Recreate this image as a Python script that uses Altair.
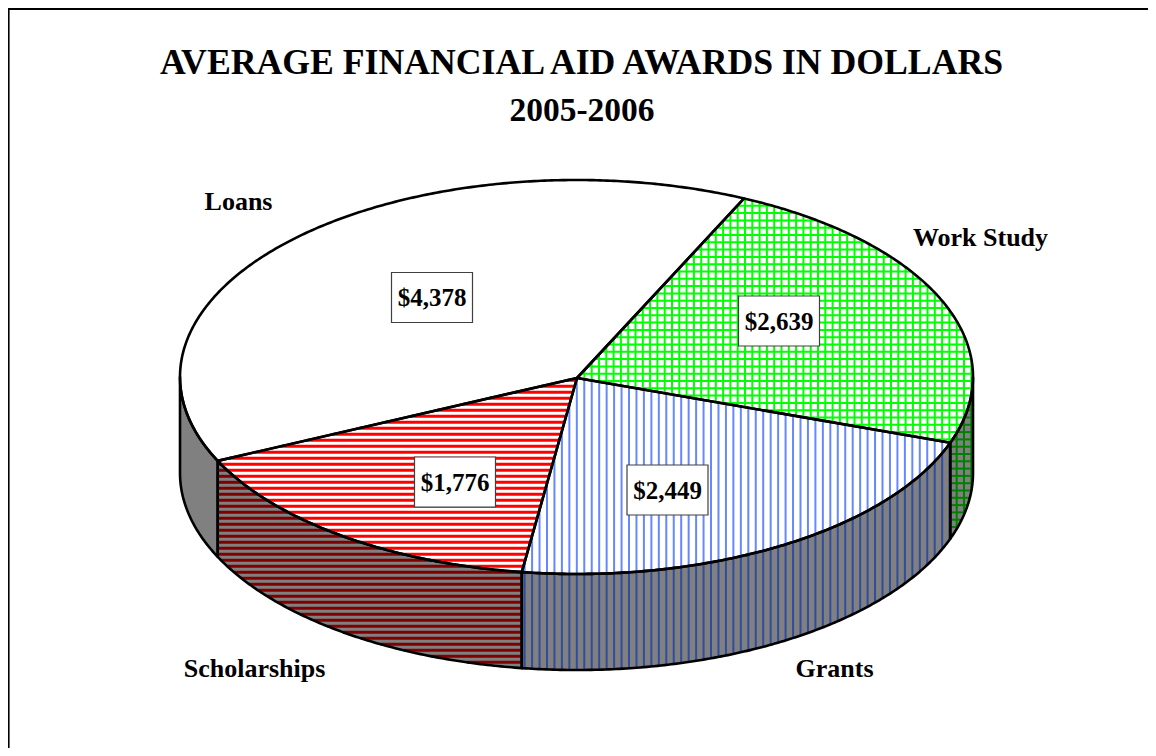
import numpy as np
import pandas as pd
import altair as alt

categories = ["Loans", "Work Study", "Grants", "Scholarships"]
values = [4378, 2639, 2449, 1776]
value_labels = ["$4,378", "$2,639", "$2,449", "$1,776"]
title_lines = ["AVERAGE FINANCIAL AID AWARDS IN DOLLARS", "2005-2006"]

# picture space (pixels of the page; the chart starts at the 8px page margin)
M = 8
W, H = 1140, 740
CX, CY, RX, RY, DEPTH = 576.5, 377.0, 396.5, 197.0, 96.0
APEX = (577.0, 378.0)
START = 25.0  # degrees clockwise from top where Loans ends
FONT = "Liberation Serif"

total = sum(values)
sweeps = [v / total * 360 for v in values]
order = [1, 2, 3, 0]
angles = {}
a = START
for i in order:
    angles[categories[i]] = (a, a + sweeps[i])
    a += sweeps[i]


def pt(deg):
    t = np.radians(deg)
    return CX + RX * np.sin(t), CY - RY * np.cos(t)


def arc(a0, a1):
    n = max(int(abs(a1 - a0) * 2), 2)
    return [pt(d) for d in np.linspace(a0, a1, n)]


def top_poly(name):
    a0, a1 = angles[name]
    return [APEX] + arc(a0, a1) + [APEX]


def side_poly(name):
    a0, a1 = angles[name]
    lo, hi = max(a0, 90), min(a1, 270)
    if hi <= lo:
        return None
    p = arc(lo, hi)
    return p + [(x, y + DEPTH) for x, y in reversed(p)] + [p[0]]


def scan(poly, coord, value):
    hits = []
    other = 1 - coord
    for p, q in zip(poly[:-1], poly[1:]):
        if (p[coord] - value) * (q[coord] - value) < 0:
            s = (value - p[coord]) / (q[coord] - p[coord])
            hits.append(p[other] + s * (q[other] - p[other]))
    hits.sort()
    return list(zip(hits[0::2], hits[1::2]))


def hatch(poly, horizontal, period, phase, color, width):
    rows = []
    coord = 1 if horizontal else 0
    vals = [p[coord] for p in poly]
    k = np.ceil((min(vals) - phase) / period)
    v = phase + k * period
    while v < max(vals):
        for s0, s1 in scan(poly, coord, v):
            if horizontal:
                rows.append(dict(x=s0, x2=s1, y=v, y2=v, color=color, w=width))
            else:
                rows.append(dict(x=v, x2=v, y=s0, y2=s1, color=color, w=width))
        v += period
    return rows


x_s = alt.Scale(domain=[M, M + W], range=[0, W])
y_s = alt.Scale(domain=[M, M + H], range=[0, H])
X = alt.X("x:Q", scale=x_s, axis=None)
Y = alt.Y("y:Q", scale=y_s, axis=None)

layers = []

sides = {n: side_poly(n) for n in categories}

wall = pd.DataFrame([dict(x=x, y=y, y2=y + DEPTH) for x, y in arc(90, 270)])
layers.append(
    alt.Chart(wall).mark_area(color="#808080", opacity=1).encode(x=X, y=Y, y2="y2:Q")
)

GP, GX, GY = 7.3, 0.4, 1.4
BP, BX = 7.456, 2.7
RP, RY0 = 6.0, 2.3
hatch_rows = []
hatch_rows += hatch(top_poly("Work Study"), True, GP, GY, "#00ff00", 2.0)
hatch_rows += hatch(top_poly("Work Study"), False, GP, GX, "#00ff00", 2.0)
hatch_rows += hatch(top_poly("Grants"), False, BP, BX, "#6688ff", 2.0)
hatch_rows += hatch(top_poly("Scholarships"), True, RP, RY0, "#ff0000", 3.0)
hatch_rows += hatch(sides["Work Study"], True, GP, GY, "#008000", 2.0)
hatch_rows += hatch(sides["Work Study"], False, GP, GX, "#008000", 2.0)
hatch_rows += hatch(sides["Grants"], False, BP, BX, "#2f4c9f", 2.0)
hatch_rows += hatch(sides["Scholarships"], True, RP, RY0, "#800000", 3.0)
layers.append(
    alt.Chart(pd.DataFrame(hatch_rows))
    .mark_rule()
    .encode(
        x=X, y=Y, x2="x2:Q", y2="y2:Q",
        color=alt.Color("color:N", scale=None),
        strokeWidth=alt.StrokeWidth("w:Q", scale=None),
    )
)

rows = []
for n in categories:
    for suffix, poly in (("-top", top_poly(n)), ("-side", sides[n])):
        if poly:
            for k, (x, y) in enumerate(poly):
                rows.append(dict(x=x, y=y, path=n + suffix, k=k))
layers.append(
    alt.Chart(pd.DataFrame(rows))
    .mark_line(color="black", strokeWidth=2.6, strokeJoin="round")
    .encode(x=X, y=Y, detail="path:N", order="k:Q")
)

# page frame: top and left edges only
frame_x = [M + 0.8, M + 0.8]
frame_y = [M, M + H]
layers.append(
    alt.Chart(pd.DataFrame(dict(x=frame_x, y=frame_y)))
    .mark_line(color="black", strokeWidth=1.6)
    .encode(x=X, y=Y)
)
layers.append(
    alt.Chart(pd.DataFrame(dict(x=[M, M + W], y=[M + 1, M + 1])))
    .mark_line(color="black", strokeWidth=2)
    .encode(x=X, y=Y)
)

# value boxes
bx = [432, 779, 667.5, 455]
by = [297.5, 321, 490, 482]
boxes = pd.DataFrame(dict(x=[v - 40.5 for v in bx], x2=[v + 40.5 for v in bx],
                          y=[v - 25 for v in by], y2=[v + 25 for v in by]))
layers.append(
    alt.Chart(boxes)
    .mark_rect(fill="white", stroke="#404040", strokeWidth=1.2)
    .encode(x=X, x2="x2:Q", y=Y, y2="y2:Q")
)
vals = pd.DataFrame(dict(x=bx, y=[v + 0.5 for v in by], t=value_labels))
layers.append(
    alt.Chart(vals)
    .mark_text(font=FONT, fontWeight="bold", fontSize=25, color="black")
    .encode(x=X, y=Y, text="t:N")
)

cats = pd.DataFrame(dict(
    x=[238.5, 980.5, 834.5, 254.5],
    y=[202, 238, 669, 669],
    t=categories,
))
layers.append(
    alt.Chart(cats)
    .mark_text(font=FONT, fontWeight="bold", fontSize=26, color="black")
    .encode(x=X, y=Y, text="t:N")
)

titles = pd.DataFrame(dict(x=[581.5, 582], y=[63, 111], t=title_lines, s=[35.7, 33.5]))
layers.append(
    alt.Chart(titles)
    .mark_text(font=FONT, fontWeight="bold", color="black")
    .encode(x=X, y=Y, text="t:N", size=alt.Size("s:Q", scale=None))
)

chart = (
    alt.layer(*layers)
    .properties(
        width=W, height=H, background="white",
        padding=alt.Padding(left=0, right=0, top=0, bottom=0),
        autosize=alt.AutoSizeParams(type="none", contains="content"),
    )
    .configure_view(stroke=None)
)
chart.save("out.html", embed_options={"renderer": "svg", "actions": False})
